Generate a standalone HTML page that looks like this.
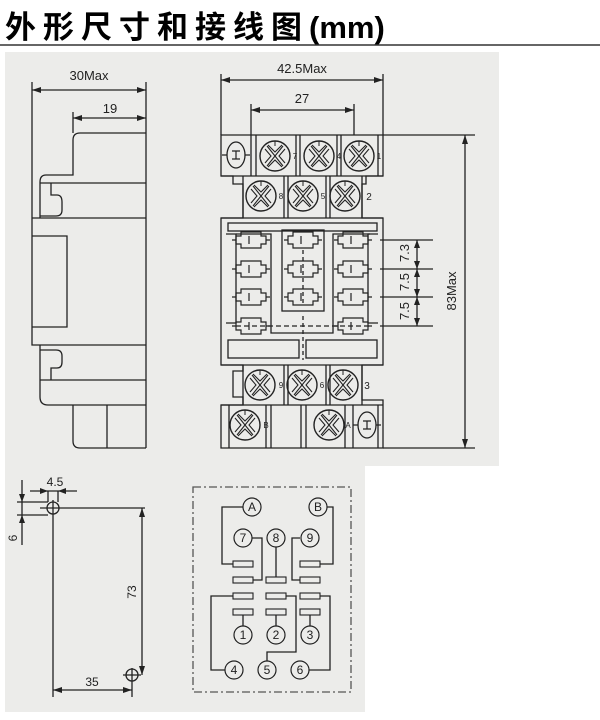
<!DOCTYPE html>
<html><head><meta charset="utf-8"><style>
body{margin:0;width:600px;height:720px;background:#fff;overflow:hidden}
svg{position:absolute;left:0;top:0}
text{font-family:"Liberation Sans",Arial,sans-serif;fill:#222}
</style></head><body>
<svg width="600" height="720" viewBox="0 0 600 720">
<defs>
<g id="term"><circle r="15" fill="none" stroke="#222" stroke-width="1.4"/><path d="M-10,-7 L-4,0 -10,7 M-7,-11 L0,-4 7,-11 M10,-7 L4,0 10,7 M-7,11 L0,4 7,11 M-8,-10 L8,10 M8,-10 L-8,10" fill="none" stroke="#222" stroke-width="1.1"/><line x1="0" y1="-15" x2="0" y2="-10" stroke="#222"/></g>
<g id="oval"><ellipse rx="9" ry="13" fill="none" stroke="#222" stroke-width="1.3"/><path d="M-4,-4 H4 M-4,4 H4 M0,-4 V4 M-14,0 H-9 M9,0 H14" stroke="#222" stroke-width="1.2"/></g>
<path id="ct" d="M-10,-8 H10 V-4 H15 V4 H10 V8 H-10 V4 H-15 V-4 H-10 Z M-2,-4 V4 M-19,0 H-15 M15,0 H19" fill="none" stroke="#222" stroke-width="1.2"/>
<rect id="bar" x="-10" y="-3" width="20" height="6" fill="none" stroke="#222" stroke-width="1.1"/>
<g id="pc"><circle r="9" fill="#ececea" stroke="#222" stroke-width="1.2"/></g>
</defs>
<text x="5" y="38" style="font-family:'Liberation Sans','Noto Sans CJK SC',sans-serif;font-weight:bold;font-size:31px;letter-spacing:7px;fill:#000">外形尺寸和接线图<tspan letter-spacing="0">(mm)</tspan></text>
<line x1="0" y1="45" x2="600" y2="45" stroke="#333" stroke-width="1.5"/>
<rect x="5" y="52" width="494" height="414" fill="#ececea"/>
<rect x="5" y="466" width="360" height="246" fill="#ececea"/>
<g fill="none" stroke="#222" stroke-width="1.3">
<path d="M146,133 H80 Q73,133 73,140 V175 H46 Q40,175 40,182 V218 M32,218 H146 M40,183 H146 M51,183 V195 H57 Q62,195 62,202 V210 Q62,216 56,216 H40"/>
<path d="M32,218 V345 H146 M32,236 H67 V327 H32 M146,133 V448 M40,345 V397 Q40,405 48,405 H146 M40,380 H146 M51,380 V368 H57 Q62,368 62,362 V356 Q62,350 56,350 H40 M73,405 V441 Q73,448 80,448 H146 M107,405 V448"/>
<path d="M32,82 V218 M73,112 V133 M146,82 V133"/>
<line x1="32" y1="90" x2="146" y2="90"/><line x1="73" y1="118" x2="146" y2="118"/>
<path d="M221,135 H383 V176 H366 V184 H362 V218 H383 V365 H362 V400 H383 V448 H221 V405 H243 V397 H233 V371 H243 V365 H221 V218 H243 V184 H233 V176 H221 Z"/>
<path d="M221,176 H383 M221,405 H383 M221,365 H383 M221,218 H383 M243,176 V218 M362,176 V218 M243,365 V405 M362,365 V405"/>
<path d="M251,135 V176 M256,135 V176 M296,135 V176 M300,135 V176 M337,135 V176 M341,135 V176 M378,135 V176 M284,176 V218 M288,176 V218 M326,176 V218 M330,176 V218 M284,365 V405 M288,365 V405 M326,365 V405 M330,365 V405 M229,405 V448 M266,405 V448 M271,405 V448 M301,405 V448 M306,405 V448 M345,405 V448 M353,405 V448 M378,405 V448"/>
<rect x="228" y="223" width="149" height="8"/>
<path d="M226,234 H236 V323 H226 M378,234 H368 V323 H378"/>
<path d="M236,234 H271 V333 H333 V234 H370"/>
<rect x="282" y="230" width="42" height="81"/>
<path d="M236,326 H370" stroke-dasharray="5,3"/>
<path d="M303,316 V360 M303,250 V305" stroke-dasharray="4,3"/>
<rect x="228" y="340" width="71" height="18"/><rect x="306" y="340" width="71" height="18"/>
<line x1="221" y1="74" x2="221" y2="135"/><line x1="383" y1="74" x2="383" y2="135"/>
<line x1="221" y1="80" x2="383" y2="80"/>
<line x1="251" y1="104" x2="251" y2="135"/><line x1="354" y1="104" x2="354" y2="135"/>
<line x1="251" y1="110" x2="354" y2="110"/>
<line x1="383" y1="135" x2="475" y2="135"/><line x1="383" y1="448" x2="475" y2="448"/>
<line x1="465" y1="135" x2="465" y2="448"/>
<path d="M380,240 H433 M380,269 H433 M380,297 H433 M380,326 H433 M417,240 V326"/>
<path d="M53,500 V697 M40,508 H145 M142,508 V675 M53,690 H132 M132,668 V697 M123,675 H141 M48,491 V502 M58,491 V502 M30,491 H77 M22,480 V545 M17,502 H48 M17,515 H48"/>
<circle cx="53" cy="508" r="6"/><circle cx="132" cy="675" r="6"/>
<rect x="193" y="487" width="158" height="205" stroke-dasharray="8,3,2,3" stroke="#555"/>
<path d="M243,507 H222 V564 H233 M318,507 H333 V564 H320 M252,538 H262 V580 H253 M300,538 H292 V580 H300 M276,547 V577 M233,596 H211 V670 H225 M286,596 H296 V652 H267 V661 M320,596 H330 V670 H309 M243,615 V626 M276,615 V626 M310,615 V626"/>
</g>
<g fill="#222">
<path d="M32,90 l9,-3 v6z M146,90 l-9,-3 v6z M73,118 l9,-3 v6z M146,118 l-9,-3 v6z M221,80 l9,-3 v6z M383,80 l-9,-3 v6z M251,110 l9,-3 v6z M354,110 l-9,-3 v6z M465,135 l-3,9 h6z M465,448 l-3,-9 h6z M142,508 l-3,9 h6z M142,675 l-3,-9 h6z M53,690 l9,-3 v6z M132,690 l-9,-3 v6z M48,491 l-8,-3 v6z M58,491 l8,-3 v6z M22,502 l-3,-8 h6z M22,515 l-3,8 h6z"/>
<path d="M417,240 l-3,8 h6z M417,269 l-3,-8 h6z M417,269 l-3,8 h6z M417,297 l-3,-8 h6z M417,297 l-3,8 h6z M417,326 l-3,-8 h6z"/>
</g>
<g>
<use href="#oval" x="236" y="155"/><use href="#term" x="275" y="156"/><use href="#term" x="319" y="156"/><use href="#term" x="359" y="156"/>
<use href="#term" x="261" y="196"/><use href="#term" x="303" y="196"/><use href="#term" x="345" y="196"/>
<use href="#term" x="260" y="385"/><use href="#term" x="302" y="385"/><use href="#term" x="343" y="385"/>
<use href="#term" x="245" y="425"/><use href="#term" x="329" y="425"/><use href="#oval" x="367" y="425"/>
<use href="#ct" x="251" y="240"/><use href="#ct" x="251" y="269"/><use href="#ct" x="251" y="297"/><use href="#ct" x="251" y="326"/>
<use href="#ct" x="303" y="240"/><use href="#ct" x="303" y="269"/><use href="#ct" x="303" y="297"/>
<use href="#ct" x="353" y="240"/><use href="#ct" x="353" y="269"/><use href="#ct" x="353" y="297"/><use href="#ct" x="353" y="326"/>
<use href="#bar" x="243" y="564"/><use href="#bar" x="310" y="564"/>
<use href="#bar" x="243" y="580"/><use href="#bar" x="276" y="580"/><use href="#bar" x="310" y="580"/>
<use href="#bar" x="243" y="596"/><use href="#bar" x="276" y="596"/><use href="#bar" x="310" y="596"/>
<use href="#bar" x="243" y="612"/><use href="#bar" x="276" y="612"/><use href="#bar" x="310" y="612"/>
<use href="#pc" x="252" y="507"/><use href="#pc" x="318" y="507"/><use href="#pc" x="243" y="538"/><use href="#pc" x="276" y="538"/><use href="#pc" x="310" y="538"/>
<use href="#pc" x="243" y="635"/><use href="#pc" x="276" y="635"/><use href="#pc" x="310" y="635"/><use href="#pc" x="234" y="670"/><use href="#pc" x="267" y="670"/><use href="#pc" x="300" y="670"/>
</g>
<g font-size="13" text-anchor="middle">
<text x="89" y="80">30Max</text><text x="110" y="113">19</text>
<text x="302" y="73">42.5Max</text><text x="302" y="103">27</text>
<text x="456" y="291" transform="rotate(-90 456 291)">83Max</text>
<text x="409" y="253" transform="rotate(-90 409 253)">7.3</text>
<text x="409" y="282" transform="rotate(-90 409 282)">7.5</text>
<text x="409" y="311" transform="rotate(-90 409 311)">7.5</text>
<text x="55" y="486" font-size="12">4.5</text>
<text x="17" y="538" font-size="12" transform="rotate(-90 17 538)">6</text>
<text x="136" y="592" font-size="12" transform="rotate(-90 136 592)">73</text>
<text x="92" y="686" font-size="12">35</text>
</g>
<g font-size="8" text-anchor="middle">
<text x="295" y="159">7</text><text x="339" y="159">4</text><text x="379" y="159">1</text>
<text x="281" y="199">8</text><text x="323" y="199">5</text><text x="369" y="200" font-size="10">2</text>
<text x="281" y="388">9</text><text x="322" y="388">6</text><text x="367" y="389" font-size="10">3</text>
<text x="266" y="428">B</text><text x="348" y="428">A</text>
</g>
<g font-size="12" text-anchor="middle">
<text x="252" y="511">A</text><text x="318" y="511">B</text><text x="243" y="542">7</text><text x="276" y="542">8</text><text x="310" y="542">9</text>
<text x="243" y="639">1</text><text x="276" y="639">2</text><text x="310" y="639">3</text><text x="234" y="674">4</text><text x="267" y="674">5</text><text x="300" y="674">6</text>
</g>
</svg>
</body></html>
